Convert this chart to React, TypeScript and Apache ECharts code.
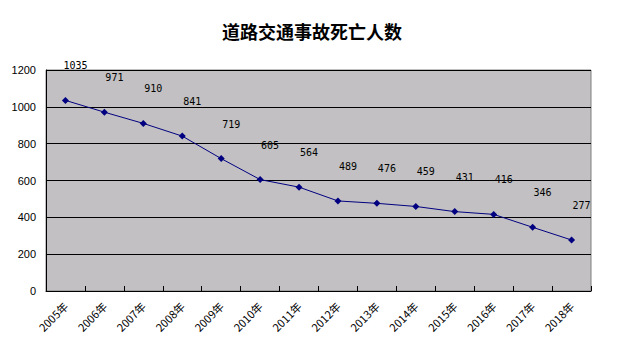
import React, { useEffect, useRef } from "react";
import * as echarts from "echarts";

const title = "道路交通事故死亡人数";
const years = ["2005年", "2006年", "2007年", "2008年", "2009年", "2010年", "2011年", "2012年", "2013年", "2014年", "2015年", "2016年", "2017年", "2018年"];
const deaths = [1035, 971, 910, 841, 719, 605, 564, 489, 476, 459, 431, 416, 346, 277];

export default function App() {
  const ref = useRef<HTMLDivElement>(null);
  useEffect(() => {
    if (!ref.current) return;
    const chart = echarts.init(ref.current, null, { renderer: "svg" });
    chart.setOption({
      animation: false,
      backgroundColor: "#ffffff",
      title: {
        text: title,
        left: "center",
        top: 17,
        textStyle: { fontFamily: "Noto Sans CJK SC", fontSize: 18, fontWeight: "bold", color: "#000" },
      },
      grid: {
        left: 46,
        right: 33,
        top: 70,
        bottom: 62,
        show: true,
        backgroundColor: "#c2c0c2",
        borderColor: "#808080",
        borderWidth: 1,
      },
      xAxis: {
        type: "category",
        data: years,
        boundaryGap: true,
        axisLine: { show: true, lineStyle: { color: "#000", width: 1 } },
        axisTick: { show: true, inside: true, length: 5, lineStyle: { color: "#000" } },
        axisLabel: {
          rotate: 45,
          interval: 0,
          margin: 13,
          fontFamily: "Noto Sans CJK SC",
          fontSize: 11,
          color: "#000",
        },
      },
      yAxis: {
        type: "value",
        min: 0,
        max: 1200,
        interval: 200,
        axisLine: { show: true, lineStyle: { color: "#000", width: 1 } },
        axisTick: { show: false },
        splitLine: { show: true, lineStyle: { color: "#000", width: 1 } },
        axisLabel: {
          fontFamily: "Liberation Sans",
          fontSize: 11,
          color: "#000",
          margin: 10,
          formatter: (v: number) => String(v),
        },
      },
      series: [
        {
          type: "line",
          data: deaths,
          symbol: "diamond",
          symbolSize: 7,
          lineStyle: { color: "#000080", width: 1 },
          itemStyle: { color: "#000080" },
          label: {
            show: true,
            position: "top",
            distance: 20,
            offset: [10, -6],
            fontFamily: "DejaVu Sans Mono",
            fontSize: 10,
            color: "#000",
          },
        },
      ],
    });
    return () => chart.dispose();
  }, []);
  return <div ref={ref} style={{ width: 624, height: 353, margin: -8 }} />;
}
